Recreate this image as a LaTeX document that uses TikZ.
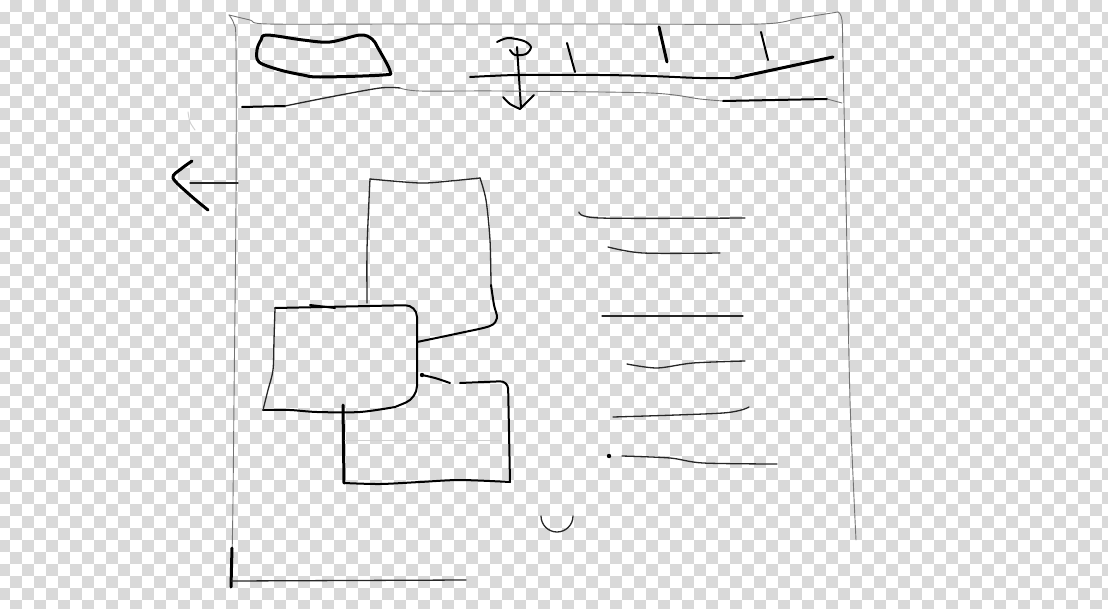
\documentclass[tikz,border=0pt]{standalone}
\begin{document}
\begin{tikzpicture}[x=1pt,y=-1pt,
  checkgray/.style={fill={rgb,255:red,217;green,217;blue,217}},
  hair/.style={draw=black!55,line width=0.9pt,line cap=round,line join=round},
  thinink/.style={draw=black!85,line width=1.3pt,line cap=round,line join=round},
  midink/.style={draw=black,line width=2pt,line cap=round,line join=round},
  boldink/.style={draw=black,line width=3pt,line cap=round,line join=round},
  faint/.style={draw=black!18,line width=1pt,line cap=round}]
\useasboundingbox (0,0) rectangle (1108,608);
\clip (0,0) rectangle (1108,608);
% transparency checkerboard
\fill[white] (0,0) rectangle (1108,608);
\foreach \r [evaluate=\r as \s using {10-12*mod(\r,2)}] in {0,...,50}{
  \foreach \k in {0,...,46}{
    \fill[checkgray] (\s+24*\k,12*\r) rectangle +(12,12);
  }
}
% window frame
\draw[hair] plot[smooth] coordinates {(229,15) (250,20) (268,24) (400,24) (600,24) (760,24) (800,18) (838,12)};
\draw[hair] plot[smooth] coordinates {(229,15) (234,24) (236,45) (236,200) (234,400) (233,500) (232,560)};
\draw[boldink] (232,548) -- (231,587);
\draw[thinink] (231,581) -- (466,580);
\draw[hair] plot[smooth] coordinates {(838,12) (842,20) (843,60) (846,200) (850,400) (856,540)};
% logo
\draw[boldink] plot[smooth cycle,tension=0.55] coordinates {(267,35) (303,40) (330,42) (360,35) (372,39) (378,48) (390,71) (383,75) (320,77) (303,75) (280,70) (259,62) (257,50) (261,40)};
% nav bar line
\draw[midink] plot[smooth] coordinates {(470,77) (490,76) (520,75) (600,75) (650,76) (700,78) (735,78)};
\draw[boldink] (735,78) -- (833,57);
% tabs
\draw[midink] (567,43) -- (575,72);
\draw[boldink] (659,27) -- (667,62);
\draw[midink] (761,32) -- (768,60);
% anchor-like symbol
\draw[midink] plot[smooth] coordinates {(497,42) (508,38) (524,41) (531,47) (526,54) (515,55) (510,50)};
\draw[midink] (517,47) -- (521,108);
\draw[midink] plot[smooth] coordinates {(503,97) (510,104) (520,109)};
\draw[midink] (520,109) -- (534,95);
% second header line
\draw[midink] (242,107) -- (285,106);
\draw[thinink] plot[smooth] coordinates {(285,106) (330,97) (380,88) (400,88)};
\draw[hair] plot[smooth] coordinates {(400,88) (420,91) (500,91) (650,93) (700,99) (723,101)};
\draw[midink] (723,101) -- (827,99);
\draw[hair] (827,99) -- (842,103);
% back arrow
\draw[boldink] plot[smooth] coordinates {(192,161) (181,169) (173,178) (190,195) (208,210)};
\draw[thinink] (190,183) -- (238,183);
\draw[faint] plot[smooth] coordinates {(188,112) (190,122) (195,130)};
% box A (top)
\draw[thinink] plot[smooth] coordinates {(367,303) (367,250) (369,200) (370,179)};
\draw[thinink] plot[smooth] coordinates {(370,179) (420,183) (450,181) (480,178)};
\draw[thinink] plot[smooth] coordinates {(480,178) (486,200) (490,240) (491,285)};
\draw[midink] plot[smooth] coordinates {(491,285) (494,305) (497,318) (490,326) (460,333) (417,342)};
% box B (middle)
\draw[midink] (310,305) -- (335,308);
\draw[midink,rounded corners=12pt] (275,308) -- (417,305) -- (417,398) -- (395,407);
\draw[midink] plot[smooth] coordinates {(395,407) (360,412) (317,412) (290,410) (263,410)};
\draw[thinink] plot[smooth] coordinates {(263,410) (268,390) (273,370) (274,340) (275,308)};
% box C (bottom)
\draw[boldink] (343,405) -- (344,483);
\draw[midink] plot[smooth] coordinates {(344,483) (380,484) (420,482) (460,480) (510,482)};
\draw[midink,rounded corners=8pt] (510,482) -- (508,381) -- (460,383);
\draw[midink] plot[smooth] coordinates {(450,383) (435,378) (422,375)};
\fill (422,375) circle (2.2);
\draw[faint] (345,440) -- (500,440);
% text lines
\draw[thinink] plot[smooth] coordinates {(579,212) (600,218) (745,218)};
\draw[thinink] plot[smooth] coordinates {(608,247) (643,253) (720,253)};
\draw[thinink] (602,316) -- (743,316);
\draw[thinink] plot[smooth] coordinates {(627,364) (657,368) (693,363) (745,361)};
\draw[thinink] plot[smooth] coordinates {(613,417) (723,413) (749,407)};
\fill (609,456) circle (2.2);
\draw[thinink] plot[smooth] coordinates {(622,456) (670,458) (703,463) (777,464)};
% small arc (opening upward)
\draw[thinink] (541,516) arc[start angle=180,end angle=0,radius=16];
\end{tikzpicture}
\end{document}
